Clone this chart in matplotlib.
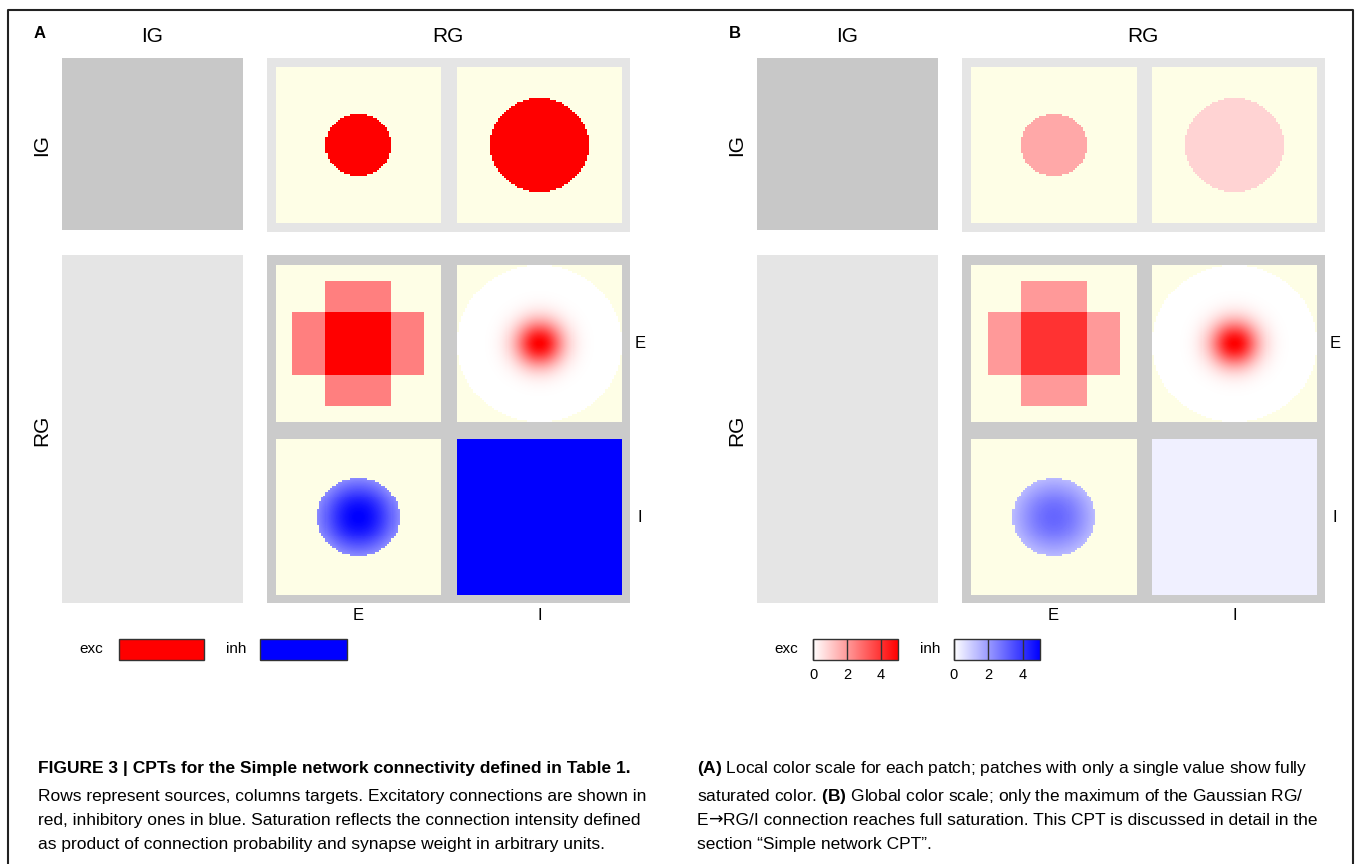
import numpy as np
import matplotlib as mpl

mpl.use("Agg")
from matplotlib import pyplot as plt
from matplotlib import font_manager
from matplotlib.colors import LinearSegmentedColormap, Normalize
from matplotlib.cm import ScalarMappable
from matplotlib.patches import Rectangle

W, H = 1355, 864

# layers and populations
groups = ['IG', 'RG']
rg_pops = ['E', 'I']

# connection kernels (arbitrary units, layer extent 1x1)
ig_radius = [0.2, 0.3]                 # IG -> RG/E, IG -> RG/I (circular masks)
ig_value = [1.7, 0.85]
cross_half = [(0.4, 0.2), (0.2, 0.4)]  # RG/E -> RG/E, two rectangles (half width x, y)
cross_value = [2.0, 2.0]
gauss_radius = [0.5, 0.25]             # RG/E -> RG/I, RG/I -> RG/E
gauss_sigma = [0.1, 0.2]
gauss_peak = [5.0, 3.0]
ii_value = 0.3                         # RG/I -> RG/I, whole layer
vmax_global = 5.0
cbar_ticks = [0, 2, 4]
grid_n = 80                            # mask resolution

names = {f.name for f in font_manager.fontManager.ttflist}
cap_font = 'Liberation Sans' if 'Liberation Sans' in names else 'DejaVu Sans'
plt.rcParams['font.family'] = [cap_font, 'DejaVu Sans']
plt.rcParams['mathtext.fontset'] = 'custom'
plt.rcParams['mathtext.bf'] = cap_font + ':bold'
plt.rcParams['mathtext.rm'] = cap_font

cream = '#fefee6'
cmap_exc = LinearSegmentedColormap.from_list('exc', ['#ffffff', '#ff0000'])
cmap_inh = LinearSegmentedColormap.from_list('inh', ['#ffffff', '#0000ff'])
cmap_exc.set_bad(cream)
cmap_inh.set_bad(cream)

# sample the kernels; masks on a coarser grid
fine = 160
c = (np.arange(fine) + 0.5) / fine - 0.5
xx, yy = np.meshgrid(c, -c)
r = np.hypot(xx, yy)
cc = (np.floor((c + 0.5) * grid_n) + 0.5) / grid_n - 0.5
mx, my = np.meshgrid(cc, -cc)
mr = np.hypot(mx, my)


def circle(radius, val):
    return np.ma.masked_where(mr > radius, np.full_like(r, val))


def gauss(radius, sigma, peak):
    z = peak * np.exp(-r ** 2 / (2 * sigma ** 2))
    return np.ma.masked_where(mr > radius, z)


def cross():
    z = np.zeros_like(r)
    for (hx, hy), v in zip(cross_half, cross_value):
        z += np.where((np.abs(mx) < hx) & (np.abs(my) < hy), v, 0)
    return np.ma.masked_where(z == 0, z)


kernels = {
    ('IG', 'E'): (circle(ig_radius[0], ig_value[0]), cmap_exc),
    ('IG', 'I'): (circle(ig_radius[1], ig_value[1]), cmap_exc),
    ('E', 'E'): (cross(), cmap_exc),
    ('E', 'I'): (gauss(gauss_radius[0], gauss_sigma[0], gauss_peak[0]), cmap_exc),
    ('I', 'E'): (gauss(gauss_radius[1], gauss_sigma[1], gauss_peak[1]), cmap_inh),
    ('I', 'I'): (np.ma.masked_array(np.full_like(r, ii_value)), cmap_inh),
}


def rect(x0, y0, x1, y1):
    return [x0 / W, 1 - y1 / H, (x1 - x0) / W, (y1 - y0) / H]


fig = plt.figure(figsize=(W / 100, H / 100), dpi=100)
bg = fig.add_axes([0, 0, 1, 1])
bg.set_xlim(0, W)
bg.set_ylim(H, 0)
bg.set_axis_off()

# page frame
bg.plot([8, 8, 1353, 1353], [H, 10, 10, H], color='#222222', lw=1.5)

col_x = [(276, 441), (457, 622)]
row_y = {'IG': (67, 223), 'E': (265, 422), 'I': (439, 595)}


def panel(dx, letter, local):
    bg.add_patch(Rectangle((62 + dx, 58), 181, 172, color='#c8c8c8', lw=0))
    bg.add_patch(Rectangle((267 + dx, 58), 363, 174, color='#e5e5e5', lw=0))
    bg.add_patch(Rectangle((62 + dx, 255), 181, 348, color='#e5e5e5', lw=0))
    bg.add_patch(Rectangle((267 + dx, 255), 363, 348, color='#cbcbcb', lw=0))

    bg.text(40 + dx, 34, letter, fontsize=12, fontweight='bold', ha='center', va='center')
    bg.text(152 + dx, 37, groups[0], fontsize=15, ha='center', va='center')
    bg.text(448 + dx, 37, groups[1], fontsize=15, ha='center', va='center')
    bg.text(42 + dx, 145, groups[0], fontsize=15, ha='center', va='center', rotation=90)
    bg.text(42 + dx, 430, groups[1], fontsize=15, ha='center', va='center', rotation=90)
    for j, p in enumerate(rg_pops):
        bg.text(sum(col_x[j]) / 2 + dx, 615, p, fontsize=12, ha='center', va='center')
        y0, y1 = row_y[p]
        bg.text(640 + dx, (y0 + y1) / 2, p, fontsize=12, ha='center', va='center')

    for (src, tgt), (z, cmap) in kernels.items():
        j = rg_pops.index(tgt)
        x0, x1 = col_x[j]
        y0, y1 = row_y[src]
        ax = fig.add_axes(rect(x0 + dx, y0, x1 + dx, y1))
        vmax = z.max() if local else vmax_global
        ax.imshow(z, cmap=cmap, norm=Normalize(0, vmax), aspect='auto',
                  interpolation='nearest')
        ax.set_axis_off()


panel(0, 'A', True)
panel(695, 'B', False)

# legend A: plain swatches
bg.text(91, 649, 'exc', fontsize=11, ha='center', va='center')
bg.add_patch(Rectangle((119, 639), 85, 21, facecolor='#ff0000', edgecolor='#333333', lw=1))
bg.text(236, 649, 'inh', fontsize=11, ha='center', va='center')
bg.add_patch(Rectangle((260, 639), 87, 21, facecolor='#0000ff', edgecolor='#333333', lw=1))

# legend B: global colour bars
bg.text(786, 649, 'exc', fontsize=11, ha='center', va='center')
bg.text(930, 649, 'inh', fontsize=11, ha='center', va='center')
for (x0, x1), cmap in [((813, 898), cmap_exc), ((954, 1040), cmap_inh)]:
    cax = fig.add_axes(rect(x0, 639, x1, 660))
    cb = fig.colorbar(ScalarMappable(Normalize(0, vmax_global), cmap), cax=cax,
                      orientation='horizontal', ticks=cbar_ticks)
    cb.outline.set_edgecolor('#333333')
    cb.outline.set_linewidth(1)
    cax.tick_params(direction='in', length=15, width=1, color='#333333',
                    labelsize=10.5, pad=6)

# caption
left = [
    "FIGURE 3 | CPTs for the Simple network connectivity defined in Table 1.",
    "Rows represent sources, columns targets. Excitatory connections are shown in",
    "red, inhibitory ones in blue. Saturation reflects the connection intensity defined",
    "as product of connection probability and synapse weight in arbitrary units.",
]
right = [
    [(r"$\mathbf{(A)}$ Local color scale for each patch; patches with only a single value show fully", cap_font)],
    [(r"saturated color. $\mathbf{(B)}$ Global color scale; only the maximum of the Gaussian RG/", cap_font)],
    [("E", cap_font), ("\u2192", 'DejaVu Sans'),
     ("RG/I connection reaches full saturation. This CPT is discussed in detail in the", cap_font)],
    [("section \u201cSimple network CPT\u201d.", cap_font)],
]
line_base = [773, 801, 825, 849]
renderer = fig.canvas.get_renderer()
for i, (a, pieces) in enumerate(zip(left, right)):
    bg.text(38, line_base[i], a, fontsize=12.5, ha='left', va='baseline',
            fontweight='bold' if i == 0 else 'normal')
    x = 697
    for s, fam in pieces:
        t = bg.text(x, line_base[i], s, fontsize=12.5, ha='left', va='baseline',
                    family=fam)
        bb = t.get_window_extent(renderer)
        x = bg.transData.inverted().transform((bb.x1, bb.y0))[0]

fig.savefig('out.png', dpi=100)
